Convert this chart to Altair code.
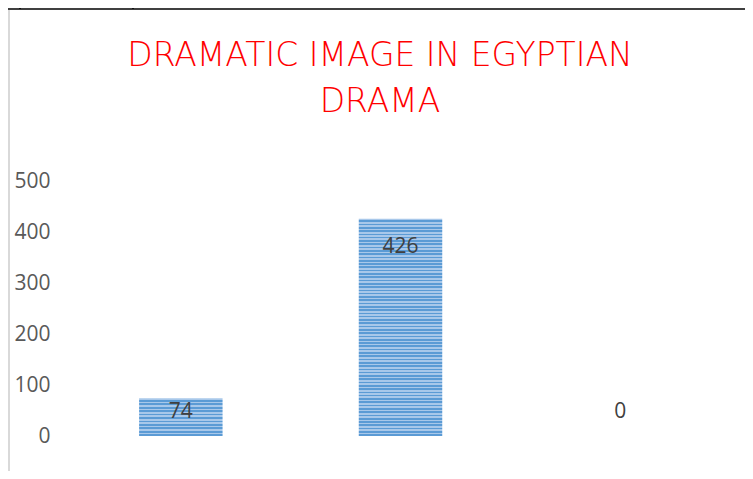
import altair as alt
import pandas as pd

categories = ["Category 1", "Category 2", "Category 3"]
values = [74, 426, 0]
y_ticks = [0, 100, 200, 300, 400, 500]
title_lines = ["DRAMATIC IMAGE IN EGYPTIAN", "DRAMA"]

df = pd.DataFrame({"cat": categories, "value": values})

W, H = 659, 255
YMAX = 500
LIGHT = "#a8c8ea"
DARK = "#5b9bd5"


def stripes(value):
    h = value / YMAX * H
    n = max(1, round(h / 3.3))
    stops = []
    for i in range(n):
        a = i / n
        m = (i + 0.5) / n
        b = (i + 1) / n
        stops += [
            alt.GradientStop(offset=a, color=LIGHT),
            alt.GradientStop(offset=m, color=LIGHT),
            alt.GradientStop(offset=m, color=DARK),
            alt.GradientStop(offset=b, color=DARK),
        ]
    return alt.LinearGradient(gradient="linear", stops=stops, x1=0, x2=0, y1=0, y2=1)


x_enc = alt.X("cat:N", sort=categories, axis=None,
              scale=alt.Scale(paddingInner=0.62, paddingOuter=0.31))
y_enc = alt.Y("value:Q", scale=alt.Scale(domain=[0, YMAX]),
              axis=alt.Axis(values=y_ticks, grid=False, domain=False, ticks=False,
                            labelFontSize=21, labelColor="#595959", labelFont="Open Sans",
                            labelPadding=21, title=None))

base = alt.Chart(df).encode(x=x_enc, y=y_enc)

layers = []
for c, v in zip(categories, values):
    if v > 0:
        layers.append(
            base.transform_filter(alt.datum.cat == c).mark_bar(color=stripes(v))
        )

txt = dict(baseline="middle", fontSize=21, font="Open Sans", color="#404040")
labels_small = base.transform_filter(
    (alt.datum.value > 0) & (alt.datum.value < 200)
).mark_text(dy=14, **txt).encode(text="value:Q")
labels_big = base.transform_filter(alt.datum.value >= 200).mark_text(
    dy=28, **txt).encode(text="value:Q")
labels_zero = base.transform_filter(alt.datum.value <= 0).mark_text(
    dy=-24, **txt).encode(text="value:Q")

one = alt.Chart(pd.DataFrame({"k": [0]}))
title_mark = one.mark_text(
    text=title_lines, fontSize=33, font="DejaVu Sans", fontWeight=200, color="#ff0000",
    align="center", baseline="alphabetic", lineHeight=46,
).encode(x=alt.value(309), y=alt.value(-115))
top_border = one.mark_rule(color="#000000", strokeWidth=1.5).encode(
    x=alt.value(-63), x2=alt.value(W + 15), y=alt.value(-172), y2=alt.value(-172))
vline1 = one.mark_rule(color="#000000", strokeWidth=1.5).encode(
    x=alt.value(-51), y=alt.value(-180), y2=alt.value(-172))
vline2 = one.mark_rule(color="#000000", strokeWidth=1.5).encode(
    x=alt.value(62), y=alt.value(-180), y2=alt.value(-172))
left_line = one.mark_rule(color="#d9d9d9", strokeWidth=2).encode(
    x=alt.value(-62), y=alt.value(-171), y2=alt.value(H + 40))

chart = alt.layer(
    *layers, labels_small, labels_big, labels_zero, title_mark,
    top_border, vline1, vline2, left_line
).properties(
    width=W, height=H,
    autosize=alt.AutoSizeParams(type="none"),
    padding={"left": 63, "top": 173, "right": 15, "bottom": 35},
).configure_view(stroke=None)

chart.save("out.html", embed_options={"renderer": "svg", "actions": False})
